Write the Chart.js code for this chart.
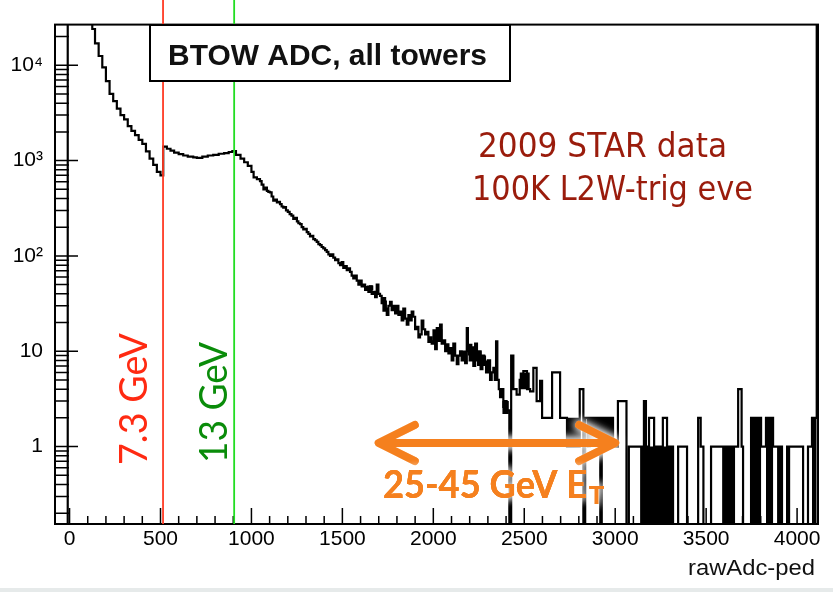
<!DOCTYPE html>
<html><head><meta charset="utf-8">
<script src="https://cdn.jsdelivr.net/npm/chart.js@4.4.1/dist/chart.umd.min.js"></script>
<style>html,body{margin:0;padding:0;background:#fff;overflow:hidden}canvas{display:block}</style>
</head><body>
<canvas id="c" width="833" height="592"></canvas>
<script>
// ---- data ----
// histogram: each count holds from its edge up to the next edge (ADC = rawAdc-ped)
const histEdges = [-80,-10,125,140,160,180,200,220,240,260,280,300,320,340,360,380,400,420,440,460,480,500,
  515,535,555,575,600,625,650,680,700,730,760,790,820,850,875,895,915,940,960,980,
  1000,1012,1030,1047,1056,1066,1075,1085,1093,1102,1111,1120,1130,1140,1148,1157,1166,1175,1183,1190,1200,1210,
  1220,1230,1240,1250,1258,1267,1276,1285,1294,1304,1313,1322,1331,1340,1350,1359,1368,1377,1386,1395,1405,1414,
  1423,1432,1441,1450,1460,1469,1478,1487,1496,1505,1514,1524,1533,1542,1551,1560,1570,1579,1588,1597,1606,1615,
  1625,1634,1643,1652,1661,1670,1680,1689,1698,1707,1716,1725,1735,1744,1753,1762,1771,1780,1790,1800,1808,1817,
  1826,1835,1845,1854,1863,1872,1881,1890,1900,1909,1918,1927,1936,1945,1955,1964,1973,1982,1991,2000,2010,2019,
  2028,2037,2046,2055,2065,2074,2083,2092,2101,2110,2120,2129,2138,2147,2156,2165,2175,2184,2190,2200,2210,2220,
  2230,2240,2250,2260,2270,2280,2290,2300,2312,2321,2330,2338,2345,2352,2360,2367,2376,2385,2394,2403,2418,
  2428,2440,2458,2475,2495,2515,2532,2550,2568,2587,2598,2653,2697,2735,
  2805,2825,2835,2850,2861,2918,2926,2988,3015,3062,3075,3137,3158,3169,3186,3214,3262,3285,3318,3346,3395,3456,
  3470,3485,3527,3588,3659,3676,3695,3703,3747,3802,3829,3868,3890,3917,3945,3972,4033,4060,4082,4108,4115];
const histCounts = [0.01,1e6,24000,17000,12500,9500,6800,5000,4200,3500,3000,2700,2300,2050,1850,1650,1500,1250,1050,900,760,700,
  1400,1330,1270,1210,1170,1130,1100,1080,1070,1100,1130,1150,1180,1200,1230,1260,1150,1050,960,880,
  760,665,640,610,560,500,520,480,470,465,420,380,390,365,370,350,330,320,325,300,290,275,
  265,245,250,230,220,215,200,190,192,178,170,160,162,150,146,140,133,130,124,120,115,110,
  104,100,104,96,90,92,84,80,86,75,78,71,74,68,62,58,62,55,50,55,48,50,
  44,47,42,48,40,42,37,50,40,38,32,36,28,24,30,33,27,30,25,30,24,26,
  21,28,22,19,24,21,26,23,17,18,14,15,21,17,15,16,12.5,14,12,12.7,10.5,17.5,
  13,19,12,13,10,11.8,9.5,10.8,8,12,9,7.3,9,10,8,9.9,7.5,17.5,10,8,11,7,
  12,8,10,6.5,9,7.5,6,8,5,6,6.7,5,12.7,5,4,3.3,4,2.6,3,2.4,0.01,
  9,4,3.5,5,6.2,4,3.8,6.7,3,4.9,2,6,2,1,
  4,0.01,2,1,2,0.01,2,1,3,0.01,1,1,3,1,2,1,2,1,0.01,1,0.01,2,
  1,0.01,1,1,1,4,1,0.01,2,1,2,1,1,0.01,1,1,0.01,1,2,1e6,1e6];
// regions so densely filled with bins that they print as solid black (lower / upper level)
const bandEdges = [1600,1634,1670,1720,1745,1995,2050,2190,2215,2240,2265,2290,2300,2380,2415,2475,2530,2735,2805,
  2861,2918,2926,2988,3137,3318,3588,3659,3747,3802,3829,3868,3890,3917,3945,3962,4082,4108];
const bandLow  = [1,44,1,26,1,12.5,1,9,8,7,7,6,1,2.2,1,4,1,1,1,1,1,1,1,0.01,1,0.01,1,0.01,1,0.01,1,0.01,1,0.01,1,0.01,1];
const bandHigh = [1,49,1,34,1,17,1,12,11,10,9,8,1,3,1,6,1,2,1,2,1,2,1,1,1,1,1,2,1,2,1,1,1,1,1,2,1];
const xTicks = [0,500,1000,1500,2000,2500,3000,3500,4000];
const yTicks = [1,10,100,1000,10000];
const yTickLabels = ['1','10','10²','10³','10⁴'];
const xRange = [-80,4115];
const yRange = [0.154,26700];
const thresholdAdc = [514,905];
const thresholdLabels = ['7.3 GeV','13 GeV'];
const arrowAdc = [1700,3000];

const toPts = (xs, ys) => xs.map((v,i)=>({x:v, y:ys[i]}));

function fitText(ctx, text, x, y, w, align){
  const m = ctx.measureText(text).width;
  ctx.save(); ctx.translate(x,y); ctx.scale(w/m,1);
  ctx.textAlign = align || 'left'; ctx.fillText(text,0,0); ctx.restore();
}

const overlay = {
  id:'overlay',
  beforeDraw(chart){
    const ctx = chart.ctx; ctx.save();
    ctx.fillStyle='#fff'; ctx.fillRect(0,0,chart.width,chart.height);
    ctx.fillStyle='#e6eaea'; ctx.fillRect(0,588,chart.width,4);
    ctx.restore();
  },
  afterDatasetsDraw(chart){
    const {ctx, chartArea:a, scales:{x,y}} = chart;
    ctx.save();
    // ticks (inward) and frame
    ctx.strokeStyle='#000'; ctx.lineWidth=1.5; ctx.beginPath();
    for(let v=0; v<=4100; v+=100){
      const px = x.getPixelForValue(v); const major = v%500===0;
      ctx.moveTo(px,a.bottom); ctx.lineTo(px,a.bottom-(major?16:8));
    }
    for(let e=-1;e<=4;e++) for(let k=1;k<=9;k++){
      const v=k*Math.pow(10,e); if(v<yRange[0]||v>yRange[1]) continue;
      const py=y.getPixelForValue(v);
      ctx.moveTo(a.left,py); ctx.lineTo(a.left+(k===1?23:14),py);
    }
    ctx.stroke();
    ctx.lineWidth=2;
    ctx.strokeRect(a.left,a.top,a.right-a.left,a.bottom-a.top);
    // threshold lines
    const lineCols=['#ff3b24','#22dd22'];
    thresholdAdc.forEach((v,i)=>{
      const px=x.getPixelForValue(v);
      ctx.strokeStyle=lineCols[i]; ctx.lineWidth=1.8; ctx.beginPath();
      ctx.moveTo(px,0); ctx.lineTo(px,a.bottom); ctx.stroke();
    });
    // title box
    ctx.fillStyle='#fff'; ctx.fillRect(150,25,360,56);
    ctx.strokeStyle='#000'; ctx.lineWidth=2; ctx.strokeRect(150,25,360,56);
    ctx.fillStyle='#111'; ctx.font="bold 30px 'Liberation Sans', Arial, sans-serif"; ctx.textBaseline='alphabetic';
    fitText(ctx,'BTOW ADC, all towers',327.5,65,319,'center');
    // threshold labels (rotated)
    const txtCols=['#ff2a12','#0a8c0a']; const tx=[147,227]; const ty=[465,463]; const tw=[132,121];
    thresholdLabels.forEach((t,i)=>{
      ctx.save(); ctx.translate(tx[i],ty[i]); ctx.rotate(-Math.PI/2);
      ctx.fillStyle=txtCols[i]; ctx.font="39px Lato, 'Open Sans', sans-serif";
      fitText(ctx,t,0,0,tw[i],'left'); ctx.restore();
    });
    // dataset note
    ctx.fillStyle='#9a1c0c'; ctx.font="33px 'DejaVu Sans', sans-serif";
    fitText(ctx,'2009 STAR data',478,157,249,'left');
    fitText(ctx,'100K L2W-trig eve',472,200,281,'left');
    // orange arrow with white glow
    const ax0=x.getPixelForValue(arrowAdc[0]), ax1=x.getPixelForValue(arrowAdc[1]), ay=443;
    const arrowPath=()=>{
      ctx.beginPath();
      ctx.moveTo(ax0+4,ay); ctx.lineTo(ax1-4,ay);
      ctx.moveTo(ax0+36,ay-18); ctx.lineTo(ax0,ay); ctx.lineTo(ax0+36,ay+18);
      ctx.moveTo(ax1-36,ay-18); ctx.lineTo(ax1,ay); ctx.lineTo(ax1-36,ay+18);
    };
    ctx.lineCap='round'; ctx.lineJoin='round';
    ctx.shadowColor='rgba(255,255,255,1)'; ctx.shadowBlur=10;
    ctx.strokeStyle='#f5801e'; ctx.lineWidth=8;
    arrowPath(); ctx.stroke(); arrowPath(); ctx.stroke();
    ctx.fillStyle='#f5801e'; ctx.font="bold 39px Lato, 'Open Sans', sans-serif";
    for(let r=0;r<3;r++) fitText(ctx,'25-45 GeV E',383,498,204,'left');
    ctx.font="bold 24px Lato, 'Open Sans', sans-serif";
    for(let r=0;r<3;r++) fitText(ctx,'T',589,504,15,'left');
    ctx.shadowBlur=0; ctx.shadowColor='rgba(0,0,0,0)';
    ctx.font="bold 39px Lato, 'Open Sans', sans-serif";
    fitText(ctx,'25-45 GeV E',383,498,204,'left');
    ctx.font="bold 24px Lato, 'Open Sans', sans-serif";
    fitText(ctx,'T',589,504,15,'left');
    // axis title
    ctx.fillStyle='#111'; ctx.font="22px 'Liberation Sans', Arial, sans-serif";
    fitText(ctx,'rawAdc-ped',815,575,127,'right');
    ctx.restore();
  }
};

new Chart(document.getElementById('c'),{
  type:'line',
  data:{datasets:[
    {data:toPts(histEdges,histCounts), stepped:true, borderColor:'#000', borderWidth:2.2, pointRadius:0, fill:false, clip:0},
    {data:toPts(bandEdges,bandLow), stepped:true, borderWidth:0, borderColor:'rgba(0,0,0,0)', pointRadius:0, fill:false, clip:0},
    {data:toPts(bandEdges,bandHigh), stepped:true, borderWidth:0, borderColor:'rgba(0,0,0,0)', pointRadius:0, fill:'-1', backgroundColor:'#000', clip:0}
  ]},
  options:{
    responsive:false, devicePixelRatio:1, animation:false,
    layout:{padding:{left:0,right:15,top:21,bottom:0}},
    plugins:{legend:{display:false}, tooltip:{enabled:false}},
    elements:{line:{tension:0}},
    scales:{
      x:{type:'linear', bounds:'data', min:xRange[0], max:xRange[1],
        grid:{display:false, drawTicks:false}, border:{display:false},
        afterBuildTicks:s=>{s.ticks=xTicks.map(v=>({value:v}));},
        afterFit:s=>{s.height=68;},
        ticks:{autoSkip:false, maxRotation:0, padding:3, color:'#000',
          font:{family:"'Liberation Sans', Arial, sans-serif", size:21},
          callback:(v,i)=>String(xTicks[i])}},
      y:{type:'logarithmic', bounds:'data', min:yRange[0], max:yRange[1],
        grid:{display:false, drawTicks:false}, border:{display:false},
        afterBuildTicks:s=>{s.ticks=yTicks.map(v=>({value:v}));},
        afterFit:s=>{s.width=55;},
        ticks:{autoSkip:false, padding:12, color:'#000',
          font:{family:"'Liberation Sans', Arial, sans-serif", size:21},
          callback:(v,i)=>yTickLabels[i]}}
    }
  },
  plugins:[overlay]
});
</script>
</body></html>
